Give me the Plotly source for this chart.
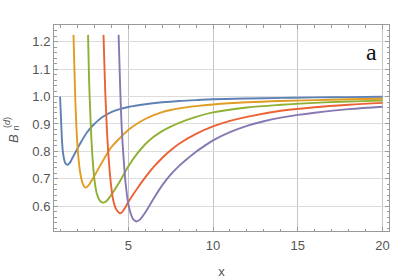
import plotly.graph_objects as go

# Data
x1 = [0.98, 1.02, 1.06, 1.10, 1.15, 1.22, 1.30, 1.41, 1.55, 1.70, 1.96, 2.25, 2.55, 2.95, 3.25, 3.5, 4.0, 4.5, 5.0, 6.0, 7.0, 8.0, 9.0, 10.0, 12.0, 14.0, 16.0, 18.0, 20.0]
y1 = [1.00, 0.94, 0.88, 0.83, 0.795, 0.770, 0.756, 0.751, 0.758, 0.775, 0.805, 0.838, 0.868, 0.897, 0.914, 0.926, 0.943, 0.954, 0.962, 0.972, 0.979, 0.984, 0.987, 0.990, 0.993, 0.995, 0.997, 0.998, 0.999]

x2 = [1.77, 1.86, 1.95, 2.05, 2.16, 2.30, 2.46, 2.65, 2.95, 3.5, 4.0, 4.5, 5.0, 5.5, 6.0, 6.5, 7.0, 7.5, 8.0, 9.0, 10.0, 12.0, 14.0, 16.0, 18.0, 20.0]
y2 = [1.225, 1.02, 0.88, 0.785, 0.725, 0.685, 0.668, 0.675, 0.705, 0.765, 0.815, 0.848, 0.878, 0.900, 0.918, 0.932, 0.943, 0.951, 0.957, 0.965, 0.971, 0.979, 0.984, 0.987, 0.990, 0.992]

x3 = [2.63, 2.71, 2.80, 2.90, 3.02, 3.15, 3.30, 3.50, 3.70, 3.95, 4.5, 5.0, 5.5, 6.0, 6.5, 7.0, 7.5, 8.0, 9.0, 10.0, 12.0, 14.0, 16.0, 18.0, 20.0]
y3 = [1.225, 1.02, 0.88, 0.77, 0.69, 0.645, 0.622, 0.613, 0.618, 0.637, 0.690, 0.745, 0.790, 0.826, 0.853, 0.874, 0.890, 0.904, 0.926, 0.942, 0.960, 0.970, 0.977, 0.982, 0.985]

x4 = [3.54, 3.64, 3.74, 3.85, 3.98, 4.12, 4.30, 4.53, 4.79, 5.0, 5.5, 6.0, 6.5, 7.0, 7.5, 8.0, 9.0, 10.0, 11.0, 12.0, 14.0, 16.0, 18.0, 20.0]
y4 = [1.225, 1.02, 0.88, 0.77, 0.68, 0.62, 0.588, 0.574, 0.592, 0.615, 0.662, 0.705, 0.743, 0.776, 0.804, 0.828, 0.864, 0.891, 0.911, 0.926, 0.948, 0.961, 0.970, 0.977]

x5 = [4.43, 4.53, 4.62, 4.72, 4.85, 5.00, 5.15, 5.30, 5.48, 5.70, 6.0, 6.5, 7.0, 7.5, 8.0, 8.5, 9.0, 9.5, 10.0, 11.0, 12.0, 13.0, 14.0, 15.0, 16.0, 18.0, 20.0]
y5 = [1.225, 1.02, 0.88, 0.78, 0.68, 0.61, 0.572, 0.552, 0.544, 0.552, 0.577, 0.628, 0.676, 0.715, 0.747, 0.774, 0.799, 0.820, 0.840, 0.870, 0.893, 0.910, 0.923, 0.933, 0.941, 0.954, 0.963]

series = [(x1, y1), (x2, y2), (x3, y3), (x4, y4), (x5, y5)]
colors = ["#5E81B5", "#E19C24", "#8FB032", "#EB6235", "#8778B3"]

fig = go.Figure()
for (xs, ys), c in zip(series, colors):
    fig.add_trace(go.Scatter(x=xs, y=ys, mode="lines",
                             line=dict(color=c, width=1.9, shape="spline", smoothing=1.0),
                             showlegend=False, hoverinfo="skip"))

FONT = "Liberation Sans, Arial, sans-serif"
axis_common = dict(showline=True, linecolor="#9a9a9a", linewidth=1, mirror="allticks",
                   ticks="inside", tickcolor="#9a9a9a", zeroline=False, automargin=False,
                   tickfont=dict(family=FONT, size=13, color="#555555"))

fig.update_xaxes(range=[0.62, 20.38], tickvals=[5, 10, 15, 20], ticklen=4,
                 ticklabelstandoff=2,
                 showgrid=True, gridcolor="#c4c4c4", gridwidth=1,
                 minor=dict(ticks="inside", dtick=1, ticklen=2.5, tickcolor="#9a9a9a", showgrid=False),
                 title=dict(text="x", font=dict(family=FONT, size=13, color="#555555"), standoff=15),
                 **axis_common)
fig.update_yaxes(range=[0.5095, 1.261], tickvals=[0.6, 0.7, 0.8, 0.9, 1.0, 1.1, 1.2],
                 ticktext=["0.6", "0.7", "0.8", "0.9", "1.0", "1.1", "1.2"], ticklen=4,
                 showgrid=True, gridcolor="#dcdcdc", gridwidth=1,
                 minor=dict(ticks="inside", dtick=0.02, ticklen=2.5, tickcolor="#9a9a9a", showgrid=False),
                 **axis_common)

L, PB = 54, 231  # plot-area left / bottom in pixels

def ann(text, px, py, size, family=FONT, color="#555555"):
    fig.add_annotation(text=text, xref="paper", yref="paper", x=0, y=0,
                       xshift=px - L, yshift=PB - py, xanchor="center", yanchor="middle",
                       showarrow=False, textangle=-90,
                       font=dict(family=family, size=size, color=color))

ann("<i>B</i>", 13.5, 138.5, 13)
ann("<i>n</i>", 15.5, 128, 9)
ann("(<i>d</i>)", 7, 123, 9)

fig.add_annotation(text="a", xref="paper", yref="paper", x=0, y=0,
                   xshift=371 - L, yshift=PB - 52, xanchor="center", yanchor="middle",
                   showarrow=False, font=dict(family="Liberation Serif", size=24, color="#111111"))

fig.update_layout(width=415, height=279,
                  margin=dict(l=54, r=415 - 389, t=25, b=279 - 231),
                  plot_bgcolor="white", paper_bgcolor="white")

fig.write_html("out.html", config={"displayModeBar": False},
               post_script="document.body.style.margin='0px';")
